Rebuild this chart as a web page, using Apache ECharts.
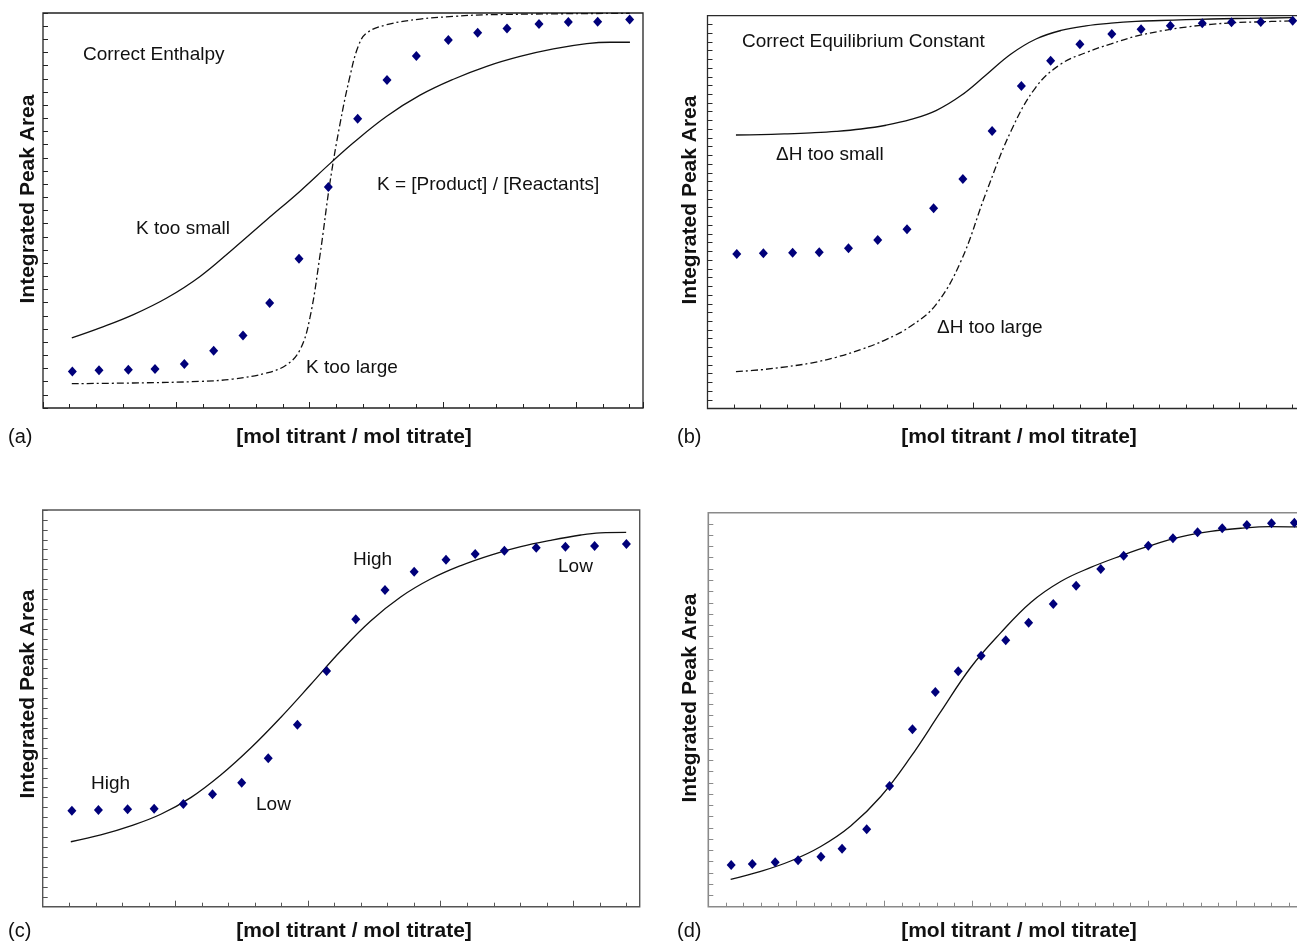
<!DOCTYPE html>
<html>
<head>
<meta charset="utf-8">
<script src="https://cdn.jsdelivr.net/npm/echarts@6/dist/echarts.min.js"></script>
<style>
  html, body { margin: 0; padding: 0; background: #fff; }
  #chart { width: 1297px; height: 943px; }
</style>
</head>
<body>
<div id="chart"></div>
<script>
// ---- Injection positions (mol titrant / mol titrate), panels a-c ----
const injRatio = [0.11, 0.21, 0.32, 0.42, 0.53, 0.64, 0.75, 0.85, 0.96, 1.07,
                  1.18, 1.29, 1.40, 1.52, 1.63, 1.74, 1.86, 1.97, 2.08, 2.20];

// ---- (a) Correct enthalpy ----
const peakA = [2.78, 2.86, 2.91, 2.96, 3.34, 4.35, 5.51, 7.97, 11.34, 16.78,
               21.97, 24.91, 26.73, 27.95, 28.50, 28.83, 29.16, 29.32, 29.34, 29.51];
const kSmallX = [0.108, 0.214, 0.339, 0.464, 0.589, 0.714, 0.839, 0.964, 1.076, 1.164,
                 1.289, 1.414, 1.539, 1.664, 1.789, 1.914, 2.039, 2.126, 2.201];
const kSmallY = [5.32, 6.08, 7.09, 8.35, 9.99, 12.10, 14.30, 16.47, 18.56, 20.15,
                 22.16, 23.76, 24.97, 25.95, 26.70, 27.27, 27.67, 27.78, 27.78];
const kLargeX = [0.108, 0.338, 0.589, 0.712, 0.839, 0.914, 0.964, 1.001, 1.039, 1.076,
                 1.114, 1.151, 1.182, 1.214, 1.289, 1.414, 1.539, 1.664, 2.20];
const kLargeY = [1.85, 1.90, 2.02, 2.20, 2.66, 3.29, 4.43, 6.86, 11.64, 17.11,
                 21.60, 25.18, 27.46, 28.48, 29.11, 29.54, 29.74, 29.87, 29.98];

// ---- (b) Correct equilibrium constant ----
const peakB = [17.70, 17.78, 17.85, 17.89, 18.35, 19.30, 20.53, 22.94, 26.29, 31.79,
               36.95, 39.84, 41.72, 42.90, 43.44, 43.85, 44.13, 44.24, 44.28, 44.43];
const curveBX = [0.107, 0.201, 0.295, 0.389, 0.483, 0.577, 0.671, 0.765, 0.859, 0.953,
                 1.047, 1.141, 1.235, 1.329, 1.423, 1.517, 1.611, 1.705, 1.799, 1.893,
                 1.987, 2.081, 2.20];
const dhSmallY = [31.33, 31.37, 31.46, 31.58, 31.75, 32.02, 32.45, 33.11, 34.13, 35.85,
                  38.21, 40.61, 42.33, 43.31, 43.84, 44.14, 44.34, 44.45, 44.54, 44.62,
                  44.68, 44.72, 44.77];
const dhLargeY = [4.22, 4.44, 4.78, 5.21, 5.87, 6.76, 7.90, 9.45, 11.91, 16.90,
                  24.69, 31.79, 36.83, 39.47, 40.78, 41.78, 42.65, 43.25, 43.70, 44.01,
                  44.21, 44.30, 44.42];

// ---- (c) Systematic residuals ----
const peakC = [9.68, 9.75, 9.82, 9.88, 10.36, 11.33, 12.50, 14.96, 18.35, 23.77,
               28.98, 31.94, 33.78, 34.99, 35.57, 35.90, 36.20, 36.30, 36.37, 36.57];
const fitCX = [0.106, 0.219, 0.332, 0.445, 0.558, 0.671, 0.784, 0.897, 1.010, 1.123,
               1.236, 1.349, 1.462, 1.576, 1.689, 1.802, 1.915, 2.028, 2.101, 2.199];
const fitCY = [6.55, 7.24, 8.15, 9.32, 11.00, 13.28, 16.00, 19.08, 22.40, 25.78,
               28.81, 31.23, 33.04, 34.40, 35.46, 36.30, 36.94, 37.48, 37.70, 37.75];

// ---- (d) Finer injection series ----
const injRatioD = [0.13, 0.25, 0.38, 0.51, 0.64, 0.76, 0.90, 1.03, 1.16, 1.29,
                   1.42, 1.55, 1.69, 1.82, 1.96, 2.09, 2.23, 2.36, 2.50, 2.64,
                   2.78, 2.92, 3.06, 3.20, 3.33];
const peakD = [3.70, 3.79, 3.94, 4.12, 4.44, 5.15, 6.88, 10.72, 15.76, 19.07,
               20.91, 22.30, 23.67, 25.23, 26.89, 28.52, 30.00, 31.18, 32.07, 32.73,
               33.26, 33.61, 33.91, 34.06, 34.11];
const fitDX = [0.127, 0.298, 0.468, 0.639, 0.809, 0.980, 1.150, 1.320, 1.491, 1.661,
               1.832, 2.002, 2.173, 2.343, 2.514, 2.684, 2.855, 3.025, 3.196, 3.345];
const fitDY = [2.43, 3.14, 4.06, 5.35, 7.17, 9.79, 13.30, 17.30, 21.25, 24.32,
               27.03, 28.89, 30.14, 31.16, 32.09, 32.85, 33.34, 33.62, 33.76, 33.74];

// ---- Text ----
const yTitle = 'Integrated Peak Area';
const xTitle = '[mol titrant / mol titrate]';
const panelTags = ['(a)', '(b)', '(c)', '(d)'];

// ---- Layout and styling ----
const FONT = '"Liberation Sans", Arial, Helvetica, sans-serif';
const MARK = '#00007a';
const INK = '#111';
const DASHDOT = [7, 3, 2, 3];

const panels = [
  { grid: { left: 43, top: 13, width: 600, height: 395 }, xMax: 2.25, yMax: 30, frame: '#222', frameW: 1.3 },
  { grid: { left: 707.5, top: 15.7, width: 598.5, height: 392.8 }, xMax: 2.25, yMax: 45, frame: '#2a2a2a', frameW: 1.3 },
  { grid: { left: 42.7, top: 510, width: 597, height: 396.7 }, xMax: 2.25, yMax: 40, frame: '#555', frameW: 1.4 },
  { grid: { left: 708.3, top: 512.7, width: 598.4, height: 394 }, xMax: 3.4, yMax: 35, frame: '#8a8a8a', frameW: 1.6 }
];

const zip = (xs, ys) => xs.map((x, i) => [x, ys[i]]);

const grids = [], xAxes = [], yAxes = [], series = [];

panels.forEach((p, k) => {
  grids.push(Object.assign({ show: true, borderColor: p.frame, borderWidth: p.frameW,
    backgroundColor: 'transparent', outerBoundsMode: 'none', containLabel: false }, p.grid));
  const tickColor = p.frame;
  // minor ticks every 0.1
  xAxes.push({ type: 'value', gridIndex: k, position: 'bottom', min: 0, max: p.xMax, interval: 0.1,
    axisLine: { show: false }, axisLabel: { show: false }, splitLine: { show: false },
    axisTick: { show: true, inside: true, length: 4, lineStyle: { color: tickColor, width: 1 } } });
  // major ticks every 0.5
  xAxes.push({ type: 'value', gridIndex: k, position: 'bottom', min: 0, max: p.xMax, interval: 0.5,
    axisLine: { show: false }, axisLabel: { show: false }, splitLine: { show: false },
    axisTick: { show: true, inside: true, length: 6, lineStyle: { color: tickColor, width: 1 } } });
  yAxes.push({ type: 'value', gridIndex: k, position: 'left', min: 0, max: p.yMax, interval: 1,
    axisLine: { show: false }, axisLabel: { show: false }, splitLine: { show: false },
    axisTick: { show: true, inside: true, length: 5, lineStyle: { color: tickColor, width: 1 } } });
});

function scatter(k, xs, ys) {
  return { type: 'scatter', xAxisIndex: 2 * k, yAxisIndex: k, data: zip(xs, ys),
    symbol: 'diamond', symbolSize: [9, 10], itemStyle: { color: MARK, opacity: 1 }, z: 3, silent: true };
}
function curve(k, xs, ys, dash) {
  return { type: 'line', xAxisIndex: 2 * k, yAxisIndex: k, data: zip(xs, ys),
    showSymbol: false, smooth: 0.4, clip: true, silent: true,
    lineStyle: { color: INK, width: 1.3, type: dash ? DASHDOT : 'solid' }, z: 2 };
}

series.push(curve(0, kSmallX, kSmallY, false));
series.push(curve(0, kLargeX, kLargeY, true));
series.push(scatter(0, injRatio, peakA));

series.push(curve(1, curveBX, dhSmallY, false));
series.push(curve(1, curveBX, dhLargeY, true));
series.push(scatter(1, injRatio, peakB));

series.push(curve(2, fitCX, fitCY, false));
series.push(scatter(2, injRatio, peakC));

series.push(curve(3, fitDX, fitDY, false));
series.push(scatter(3, injRatioD, peakD));

// annotation and title text
function label(text, x, y, size) {
  return { type: 'text', x: x, y: y, silent: true,
    style: { text: text, fill: INK, font: `${size}px ${FONT}`, align: 'left', verticalAlign: 'middle' } };
}
function bold(text, x, y, rot) {
  return { type: 'text', x: x, y: y, rotation: rot || 0, silent: true,
    style: { text: text, fill: INK, font: `bold 21px ${FONT}`, align: 'center', verticalAlign: 'middle' } };
}

const graphics = [
  // (a)
  label('Correct Enthalpy', 83, 55, 19),
  label('K too small', 136, 229, 19),
  label('K = [Product] / [Reactants]', 377, 185, 19),
  label('K too large', 306, 368, 19),
  // (b)
  label('Correct Equilibrium Constant', 742, 42, 19),
  label('\u0394H too small', 776, 155, 19),
  label('\u0394H too large', 937, 328, 19),
  // (c)
  label('High', 91, 784, 19),
  label('Low', 256, 805, 19),
  label('High', 353, 560, 19),
  label('Low', 558, 567, 19),
  // panel tags
  label(panelTags[0], 8, 437, 20),
  label(panelTags[1], 677, 437, 20),
  label(panelTags[2], 8, 931, 20),
  label(panelTags[3], 677, 931, 20),
  // axis titles
  bold(yTitle, 28, 199, Math.PI / 2),
  bold(yTitle, 690, 200, Math.PI / 2),
  bold(yTitle, 28, 694, Math.PI / 2),
  bold(yTitle, 690, 698, Math.PI / 2),
  bold(xTitle, 354, 437),
  bold(xTitle, 1019, 437),
  bold(xTitle, 354, 931),
  bold(xTitle, 1019, 931)
];

const chart = echarts.init(document.getElementById('chart'), null, { renderer: 'canvas' });
chart.setOption({
  backgroundColor: '#fff',
  animation: false,
  grid: grids,
  xAxis: xAxes,
  yAxis: yAxes,
  series: series,
  graphic: graphics
});
</script>
</body>
</html>
